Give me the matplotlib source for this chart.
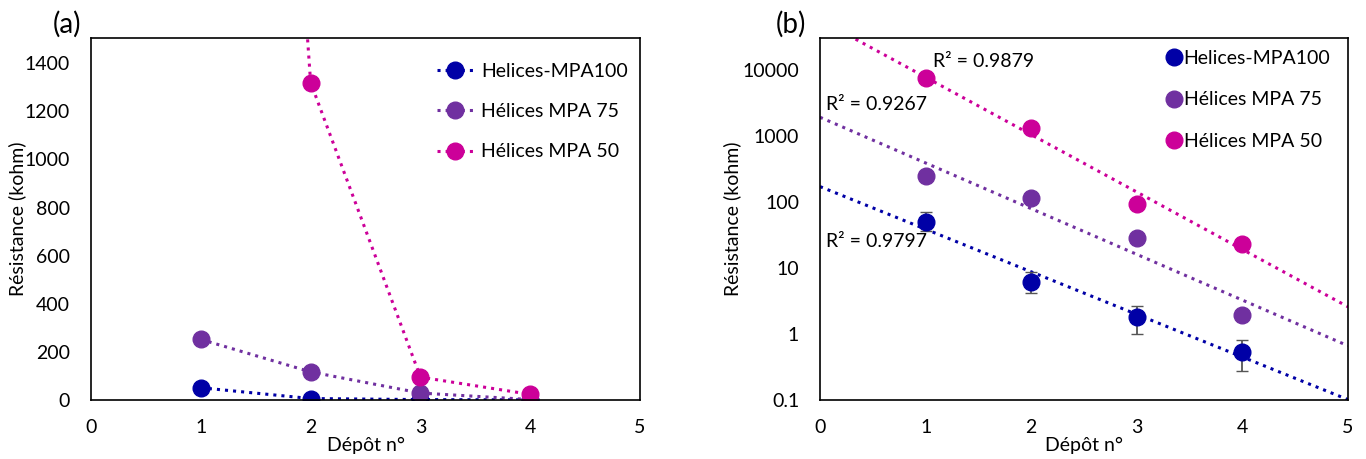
import matplotlib.pyplot as plt
import numpy as np

plt.rcParams['font.family'] = ['Lato', 'DejaVu Sans']

depot = [1, 2, 3, 4]
labels = ['Helices-MPA100', 'Hélices MPA 75', 'Hélices MPA 50']
colors = ['#0000A6', '#7030A0', '#CC0099']

r_mpa100 = [51, 6.2, 1.8, 0.54]
r_mpa75 = [252, 117, 29, 1.96]
r_mpa50 = [7800, 1320, 95, 23.5]
series = [r_mpa100, r_mpa75, r_mpa50]

# error bars only on MPA100 (lower, upper bounds)
err_low = [37, 4.2, 1.0, 0.28]
err_high = [70, 8.6, 2.7, 0.8]

r2_text = ['R² = 0.9797', 'R² = 0.9267', 'R² = 0.9879']
r2_pos = [(0.057, 25), (0.057, 3040), (1.07, 13700)]

fig = plt.figure(figsize=(13.66, 4.59), dpi=100)
ax1 = fig.add_axes([0.0666, 0.1285, 0.402, 0.7887])
ax2 = fig.add_axes([0.6003, 0.1285, 0.3865, 0.7887])

yerr = [np.array(r_mpa100) - np.array(err_low), np.array(err_high) - np.array(r_mpa100)]

# (a) linear scale, dotted lines
for vals, c, lab in zip(series, colors, labels):
    ax1.plot(depot, vals, ':', color=c, lw=2.2, marker='o', ms=12, label=lab)
ax1.set_xlim(0, 5)
ax1.set_ylim(0, 1505)
ax1.set_yticks(np.arange(0, 1401, 200))
ax1.set_xticks(range(6))
ax1.set_xlabel('Dépôt n°', fontsize=14)
ax1.set_ylabel('Résistance (kohm)', fontsize=14)
ax1.xaxis.set_label_coords(0.5, -0.102)
ax1.yaxis.set_label_coords(-0.118, 0.5)
ax1.legend(loc='upper right', frameon=False, fontsize=14, handlelength=1.9,
           labelspacing=1.2, handletextpad=0.4, bbox_to_anchor=(1.01, 0.98))
ax1.text(-0.07, 1.015, '(a)', transform=ax1.transAxes, fontsize=20)

# (b) log scale with exponential trendlines
xfit = np.linspace(0, 5, 100)
for vals, c, lab in zip(series, colors, labels):
    ax2.plot(depot, vals, 'o', color=c, ms=12, label=lab, zorder=3)
    p = np.polyfit(depot, np.log10(vals), 1)
    ax2.plot(xfit, 10 ** np.polyval(p, xfit), ':', color=c, lw=2.2, zorder=2)
ax2.errorbar(depot, r_mpa100, yerr=yerr, fmt='none', ecolor='#555555',
             elinewidth=1.3, capsize=4, zorder=2)
for t, (x, y) in zip(r2_text, r2_pos):
    ax2.text(x, y, t, fontsize=14, va='center')
ax2.set_yscale('log')
ax2.set_xlim(0, 5)
ax2.set_ylim(0.1, 31000)
ax2.set_yticks([0.1, 1, 10, 100, 1000, 10000])
ax2.set_yticklabels(['0.1', '1', '10', '100', '1000', '10000'])
ax2.minorticks_off()
ax2.set_xticks(range(6))
ax2.set_xlabel('Dépôt n°', fontsize=14)
ax2.set_ylabel('Résistance (kohm)', fontsize=14)
ax2.xaxis.set_label_coords(0.5, -0.102)
ax2.yaxis.set_label_coords(-0.150, 0.5)
ax2.legend(loc='upper right', frameon=False, fontsize=14, handlelength=0.6,
           labelspacing=1.25, handletextpad=0.2, bbox_to_anchor=(1.0, 1.015))
ax2.text(-0.083, 1.015, '(b)', transform=ax2.transAxes, fontsize=20)

for ax in (ax1, ax2):
    ax.tick_params(length=0, labelsize=14)
    ax.tick_params(axis='x', pad=14)
    ax.tick_params(axis='y', pad=15)
    for s in ax.spines.values():
        s.set_linewidth(1.2)

fig.savefig('out.png', dpi=100)
